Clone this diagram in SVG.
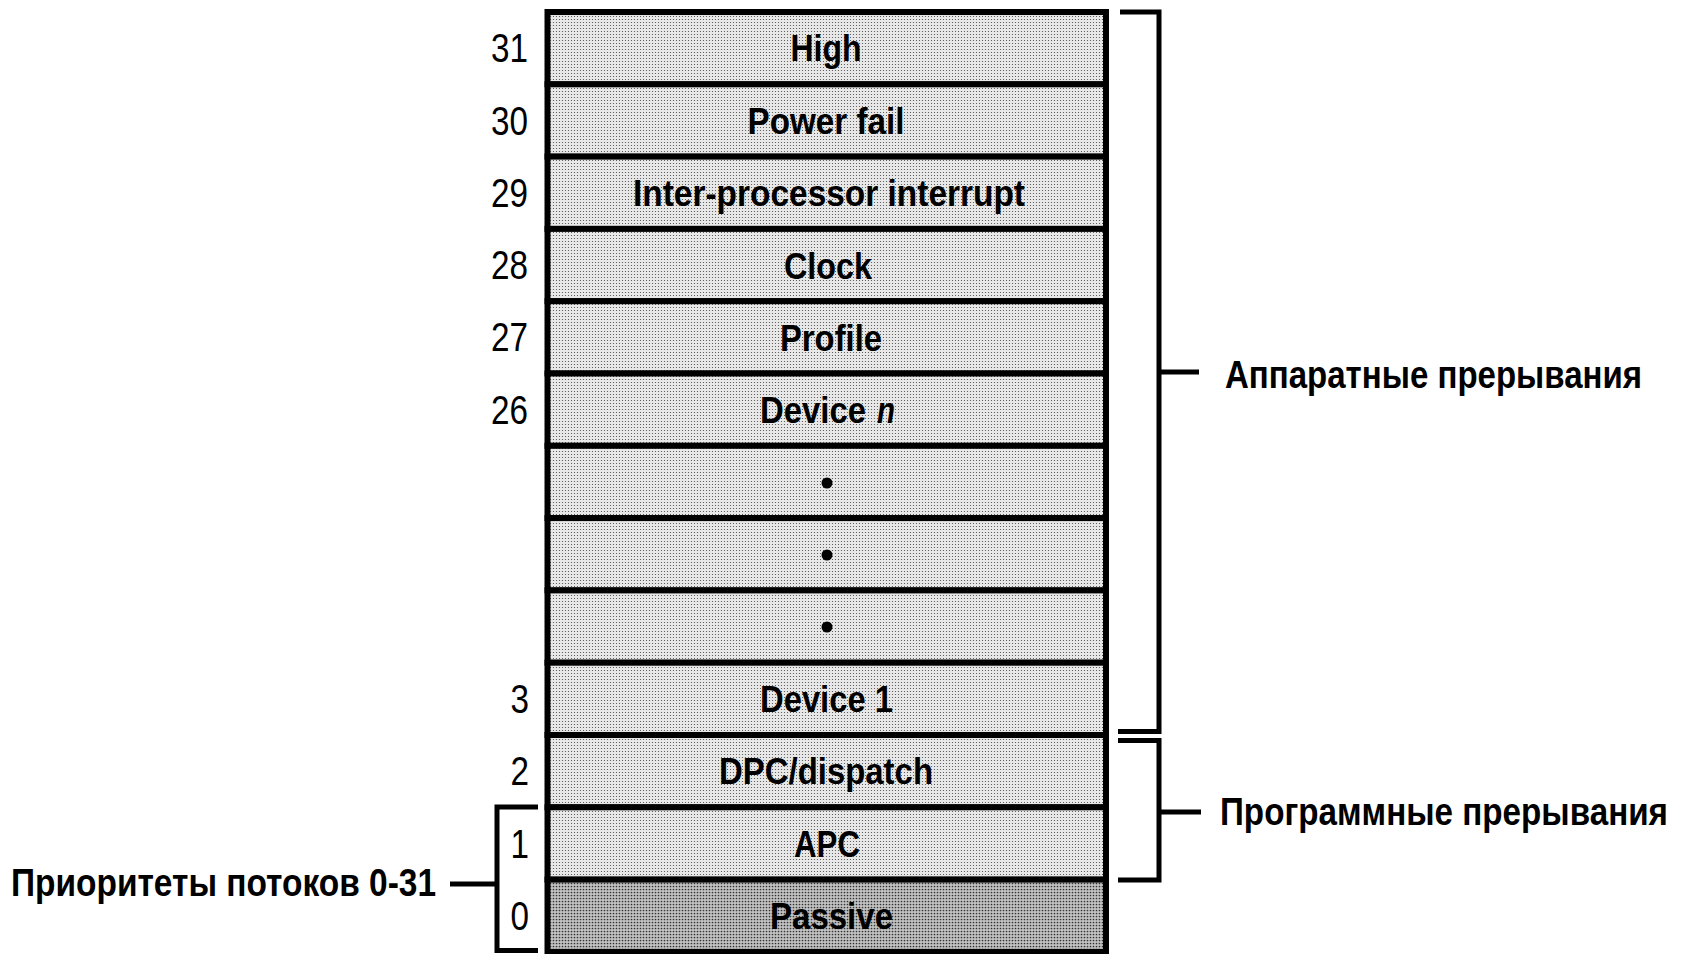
<svg xmlns="http://www.w3.org/2000/svg" width="1682" height="954" viewBox="0 0 1682 954">
  <style>
    .row { stroke: #000; stroke-width: 6; }
    .light { fill: url(#halftone); }
    .dark { fill: url(#halftoneDark); }
    .lbl { font-family: "Liberation Sans", Arial, sans-serif; font-weight: bold; font-size: 36px; fill: #000; text-anchor: middle; }
    .num { font-family: "Liberation Sans", Arial, sans-serif; font-size: 40px; fill: #000; text-anchor: end; }
    .cap { font-family: "Liberation Sans", Arial, sans-serif; font-weight: bold; font-size: 33px; fill: #000; }
    .br { fill: none; stroke: #000; stroke-width: 5; stroke-linecap: butt; stroke-linejoin: miter; }
  </style>
  <defs>
    <pattern id="halftone" width="3" height="3" patternUnits="userSpaceOnUse">
      <rect width="3" height="3" fill="#e8e8e8"/>
      <circle cx="1.5" cy="1.5" r="0.6" fill="#4a4a4a"/>
    </pattern>
    <pattern id="halftoneDark" width="3" height="3" patternUnits="userSpaceOnUse">
      <rect width="3" height="3" fill="#c2c2c2"/>
      <circle cx="1.5" cy="1.5" r="0.85" fill="#333333"/>
    </pattern>
  </defs>
  <rect width="1682" height="954" fill="#ffffff"/>

  <!-- IRQL levels, top (31) to bottom (0) -->
  <g id="irql-31">
    <rect class="row light" x="547.5" y="12" width="558.5" height="72.3"/>
    <text class="num" x="528" y="62" textLength="37" lengthAdjust="spacingAndGlyphs">31</text>
    <text class="lbl" x="826" y="61" textLength="71" lengthAdjust="spacingAndGlyphs">High</text>
  </g>
  <g id="irql-30">
    <rect class="row light" x="547.5" y="84.3" width="558.5" height="72.3"/>
    <text class="num" x="528" y="134.5" textLength="37" lengthAdjust="spacingAndGlyphs">30</text>
    <text class="lbl" x="826" y="133.5" textLength="157" lengthAdjust="spacingAndGlyphs">Power fail</text>
  </g>
  <g id="irql-29">
    <rect class="row light" x="547.5" y="156.6" width="558.5" height="72.3"/>
    <text class="num" x="528" y="206.8" textLength="37" lengthAdjust="spacingAndGlyphs">29</text>
    <text class="lbl" x="829" y="206" textLength="392" lengthAdjust="spacingAndGlyphs">Inter-processor interrupt</text>
  </g>
  <g id="irql-28">
    <rect class="row light" x="547.5" y="228.9" width="558.5" height="72.3"/>
    <text class="num" x="528" y="279.1" textLength="37" lengthAdjust="spacingAndGlyphs">28</text>
    <text class="lbl" x="828" y="279" textLength="88" lengthAdjust="spacingAndGlyphs">Clock</text>
  </g>
  <g id="irql-27">
    <rect class="row light" x="547.5" y="301.2" width="558.5" height="72.3"/>
    <text class="num" x="528" y="351.4" textLength="37" lengthAdjust="spacingAndGlyphs">27</text>
    <text class="lbl" x="831" y="350.5" textLength="102" lengthAdjust="spacingAndGlyphs">Profile</text>
  </g>
  <g id="irql-26">
    <rect class="row light" x="547.5" y="373.5" width="558.5" height="72.3"/>
    <text class="num" x="528" y="423.7" textLength="37" lengthAdjust="spacingAndGlyphs">26</text>
    <text class="lbl" x="813" y="422.5" textLength="106" lengthAdjust="spacingAndGlyphs">Device</text>
    <text class="lbl" x="886" y="422.5" font-style="italic" textLength="18" lengthAdjust="spacingAndGlyphs">n</text>
  </g>
  <g id="irql-gap-1">
    <rect class="row light" x="547.5" y="445.8" width="558.5" height="72.3"/>
    <circle cx="827" cy="483" r="5.5" fill="#000"/>
  </g>
  <g id="irql-gap-2">
    <rect class="row light" x="547.5" y="518.1" width="558.5" height="72.3"/>
    <circle cx="827" cy="555" r="5.5" fill="#000"/>
  </g>
  <g id="irql-gap-3">
    <rect class="row light" x="547.5" y="590.4" width="558.5" height="72.3"/>
    <circle cx="827" cy="627" r="5.5" fill="#000"/>
  </g>
  <g id="irql-3">
    <rect class="row light" x="547.5" y="662.7" width="558.5" height="72.3"/>
    <text class="num" x="529" y="712.9" textLength="18.5" lengthAdjust="spacingAndGlyphs">3</text>
    <text class="lbl" x="826.5" y="711.9" textLength="133" lengthAdjust="spacingAndGlyphs">Device 1</text>
  </g>
  <g id="irql-2">
    <rect class="row light" x="547.5" y="735" width="558.5" height="72.3"/>
    <text class="num" x="529" y="785.2" textLength="18.5" lengthAdjust="spacingAndGlyphs">2</text>
    <text class="lbl" x="826" y="784.2" textLength="214" lengthAdjust="spacingAndGlyphs">DPC/dispatch</text>
  </g>
  <g id="irql-1">
    <rect class="row light" x="547.5" y="807.3" width="558.5" height="72.3"/>
    <text class="num" x="529" y="857.5" textLength="18.5" lengthAdjust="spacingAndGlyphs">1</text>
    <text class="lbl" x="827" y="856.5" textLength="66" lengthAdjust="spacingAndGlyphs">APC</text>
  </g>
  <g id="irql-0">
    <rect class="row dark" x="547.5" y="879.6" width="558.5" height="72.3"/>
    <text class="num" x="529" y="929.8" textLength="18.5" lengthAdjust="spacingAndGlyphs">0</text>
    <text class="lbl" x="831.5" y="929" textLength="123" lengthAdjust="spacingAndGlyphs">Passive</text>
  </g>

  <!-- brackets grouping the levels -->
  <g id="connectors">
    <path class="br" d="M1120,12 H1159 V731.5 H1118"/>
    <path class="br" d="M1159,372 H1199"/>
    <path class="br" d="M1118,740.5 H1159 V880 H1118"/>
    <path class="br" d="M1159,812 H1201"/>
    <path class="br" d="M538,807 H497 V950.5 H538"/>
    <path class="br" d="M450,884 H497"/>
  </g>

  <!-- group captions: narrow bold type, stretched vertically -->
  <g id="label-hardware">
    <text class="cap" transform="translate(1225,388) scale(1,1.2)" x="0" y="0" textLength="417" lengthAdjust="spacingAndGlyphs">Аппаратные прерывания</text>
  </g>
  <g id="label-software">
    <text class="cap" transform="translate(1220,825) scale(1,1.2)" x="0" y="0" textLength="448" lengthAdjust="spacingAndGlyphs">Программные прерывания</text>
  </g>
  <g id="label-threads">
    <text class="cap" transform="translate(11,896) scale(1,1.15)" x="0" y="0" textLength="425" lengthAdjust="spacingAndGlyphs">Приоритеты потоков 0-31</text>
  </g>
</svg>
